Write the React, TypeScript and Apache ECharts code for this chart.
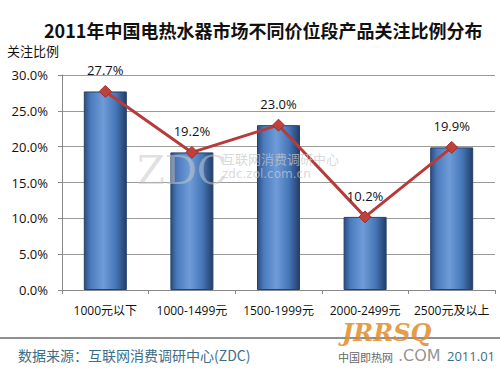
import React, { useEffect, useRef } from "react";
import * as echarts from "echarts";

const categories = ["1000元以下", "1000-1499元", "1500-1999元", "2000-2499元", "2500元及以上"];
const shares = [27.7, 19.2, 23.0, 10.2, 19.9];
const yTicks = { min: 0, max: 30, interval: 5 };
const titleText = "2011年中国电热水器市场不同价位段产品关注比例分布";
const yName = "关注比例";
const sourceText = "数据来源：互联网消费调研中心(ZDC)";
const dateText = "2011.01";

const latin = "'Open Sans', 'Noto Sans CJK SC', sans-serif";

export default function App() {
  const ref = useRef<HTMLDivElement>(null);
  useEffect(() => {
    document.body.style.margin = "0";
    const chart = echarts.init(ref.current!, null, { renderer: "svg" });
    const barGradient = new echarts.graphic.LinearGradient(0, 0, 1, 0, [
      { offset: 0, color: "#2b4f80" },
      { offset: 0.15, color: "#4b7bbd" },
      { offset: 0.45, color: "#6f9cd8" },
      { offset: 0.75, color: "#4676b8" },
      { offset: 1, color: "#223f68" },
    ]);
    chart.setOption({
      animation: false,
      backgroundColor: "#ffffff",
      grid: { left: 62, right: 5, top: 75, bottom: 85 },
      xAxis: {
        type: "category",
        data: categories,
        axisLine: { lineStyle: { color: "#888888" } },
        axisTick: { show: true, length: 4, lineStyle: { color: "#888888" } },
        axisLabel: { color: "#111", fontSize: 12, margin: 14, fontFamily: latin, interval: 0 },
      },
      yAxis: {
        type: "value",
        min: yTicks.min,
        max: yTicks.max,
        interval: yTicks.interval,
        axisLine: { show: true, lineStyle: { color: "#888888" } },
        axisTick: { show: true, length: 4, lineStyle: { color: "#888888" } },
        splitLine: { lineStyle: { color: "#9a9a9a" } },
        axisLabel: {
          color: "#111",
          fontSize: 13,
          margin: 14,
          fontFamily: latin,
          formatter: (v: number) => v.toFixed(1) + "%",
        },
      },
      series: [
        {
          type: "bar",
          data: shares,
          barWidth: 43,
          itemStyle: { color: barGradient, borderColor: "#23416b", borderWidth: 1 },
          z: 2,
        },
        {
          type: "line",
          data: shares,
          symbol: "diamond",
          symbolSize: 12,
          lineStyle: { color: "#b53c3a", width: 3 },
          itemStyle: { color: "#c0403c", borderColor: "#9e2f2c", borderWidth: 1 },
          label: {
            show: true,
            position: "top",
            distance: 8,
            color: "#111",
            fontSize: 13,
            fontFamily: latin,
            formatter: (p: any) => Number(p.value).toFixed(1) + "%",
          },
          z: 5,
        },
      ],
      graphic: [
        {
          type: "text",
          left: 44,
          top: 21,
          style: {
            text: titleText,
            font: "bold 18px 'Noto Sans CJK SC', sans-serif",
            fill: "#111",
          },
        },
        {
          type: "text",
          left: 7,
          top: 44,
          style: { text: yName, font: "13px 'Noto Sans CJK SC', sans-serif", fill: "#111" },
        },
        {
          type: "text",
          left: 137,
          top: 150,
          z: 10,
          style: { text: "ZDC", font: "40px 'DejaVu Serif', serif", fill: "rgba(200,200,200,0.55)" },
        },
        {
          type: "text",
          left: 222,
          top: 152,
          z: 10,
          style: { text: "互联网消费调研中心", font: "13px 'Noto Sans CJK SC', sans-serif", fill: "rgba(200,200,200,0.7)" },
        },
        {
          type: "text",
          left: 222,
          top: 168,
          z: 10,
          style: { text: "zdc.zol.com.cn", font: "12px 'DejaVu Sans', sans-serif", fill: "rgba(200,200,200,0.7)" },
        },
        {
          type: "line",
          shape: { x1: 0, y1: 338, x2: 500, y2: 338 },
          style: { stroke: "#222", lineWidth: 1 },
        },
        {
          type: "text",
          left: 342,
          top: 320,
          z: 10,
          style: { text: "JRRSQ", font: "italic bold 24px 'DejaVu Serif', serif", fill: "rgba(226,140,40,0.85)" },
        },
        {
          type: "text",
          left: 338,
          top: 351,
          z: 10,
          style: { text: "中国即热网", font: "11px 'Noto Sans CJK SC', sans-serif", fill: "#666" },
        },
        {
          type: "text",
          left: 398,
          top: 347,
          z: 10,
          style: { text: ".COM", font: "16px 'DejaVu Sans', sans-serif", fill: "rgba(120,120,120,0.8)" },
        },
        {
          type: "text",
          left: 18,
          top: 348,
          style: { text: sourceText, font: "14px 'Noto Sans CJK SC', sans-serif", fill: "#3d6e88" },
        },
        {
          type: "text",
          left: 447,
          top: 349,
          style: { text: dateText, font: "13px " + latin, fill: "#3d6e88" },
        },
      ],
    });
    return () => chart.dispose();
  }, []);
  return <div ref={ref} style={{ width: 500, height: 375 }} />;
}
